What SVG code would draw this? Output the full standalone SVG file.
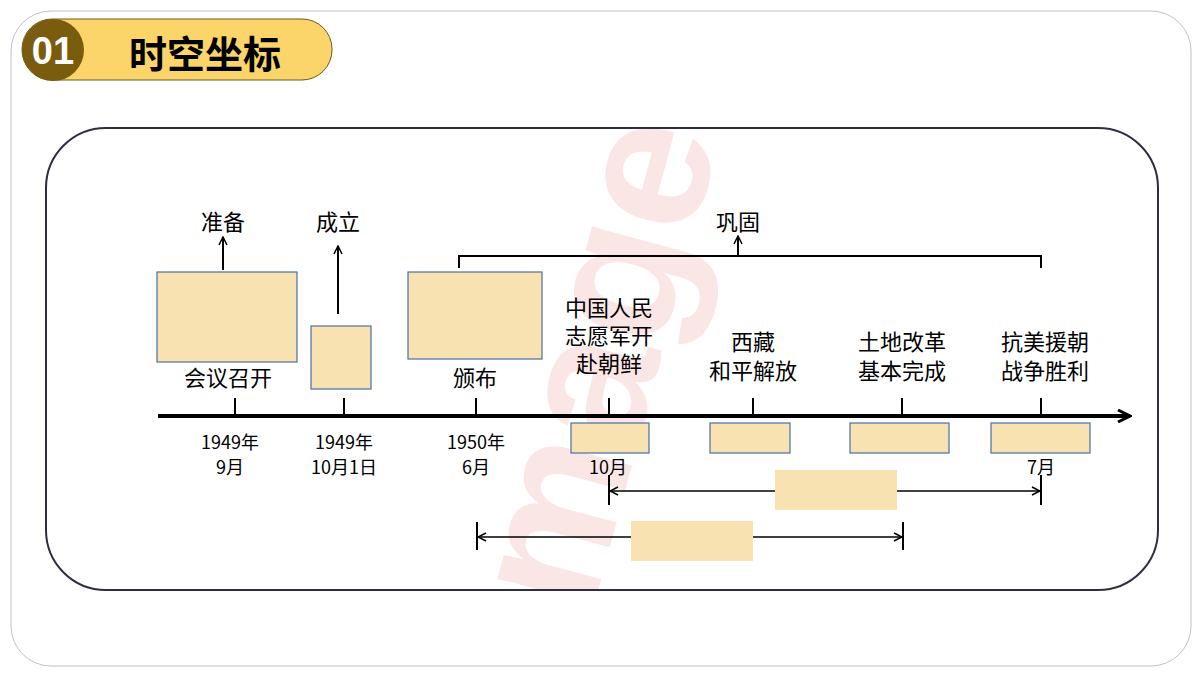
<svg xmlns="http://www.w3.org/2000/svg" width="1200" height="675" viewBox="0 0 1200 675">
<defs>
<style>
.t{font-family:"Liberation Serif","Noto Sans CJK SC",serif;font-size:22px;fill:#000;text-anchor:middle}
.d{font-family:"Noto Sans CJK SC",sans-serif;font-size:18px;fill:#000;text-anchor:middle}
.box{fill:#f8e2b2;stroke:#4a6fa5;stroke-width:1.2}
.ln{stroke:#000;fill:none}
</style>
<clipPath id="inner"><rect x="46" y="128" width="1112" height="462" rx="60"/></clipPath>
<marker id="ah" markerWidth="10" markerHeight="10" refX="9" refY="5" orient="auto-start-reverse" markerUnits="userSpaceOnUse"><path d="M1,1 L9,5 L1,9" fill="none" stroke="#000" stroke-width="1.5"/></marker>
<marker id="big" markerWidth="16" markerHeight="16" refX="14" refY="8" orient="auto" markerUnits="userSpaceOnUse"><path d="M2,2 L14,8 L2,14" fill="none" stroke="#000" stroke-width="3"/></marker>
</defs>
<rect width="1200" height="675" fill="#fff"/>
<rect x="11" y="11" width="1180" height="655" rx="40" fill="#fff" stroke="#b8c4d0" stroke-width="1"/>
<g clip-path="url(#inner)"><text x="600" y="390" transform="rotate(-75 600 390)" font-family="Liberation Sans,sans-serif" font-size="190" font-weight="bold" fill="#fbe6e6" text-anchor="middle" dominant-baseline="middle">Image</text></g>
<g id="title">
<rect x="22" y="19" width="310" height="61" rx="30" fill="#fcd56a" stroke="#6b5a1e" stroke-width="1"/>
<circle cx="53" cy="50" r="31" fill="#7a5c0e"/>
<text x="53" y="64" font-family="Liberation Sans,sans-serif" font-size="38" font-weight="bold" fill="#fff" text-anchor="middle">01</text>
<text x="205" y="68" font-family="Noto Sans CJK SC,sans-serif" font-size="38" font-weight="bold" fill="#000" text-anchor="middle">时空坐标</text>
</g>
<rect x="46" y="128" width="1112" height="462" rx="60" fill="none" stroke="#2e2e40" stroke-width="2"/>
<g id="connectors">
<line class="ln" x1="158" y1="416" x2="1130" y2="416" stroke-width="4" marker-end="url(#big)"/>
<line class="ln" x1="235" y1="398" x2="235" y2="416" stroke-width="2"/>
<line class="ln" x1="344" y1="398" x2="344" y2="416" stroke-width="2"/>
<line class="ln" x1="476" y1="398" x2="476" y2="416" stroke-width="2"/>
<line class="ln" x1="609" y1="398" x2="609" y2="416" stroke-width="2"/>
<line class="ln" x1="753" y1="398" x2="753" y2="416" stroke-width="2"/>
<line class="ln" x1="902" y1="398" x2="902" y2="416" stroke-width="2"/>
<line class="ln" x1="1041" y1="398" x2="1041" y2="416" stroke-width="2"/>
<line class="ln" x1="223" y1="270" x2="223" y2="237" stroke-width="2" marker-end="url(#ah)"/>
<line class="ln" x1="338" y1="314" x2="338" y2="246" stroke-width="2" marker-end="url(#ah)"/>
<path class="ln" d="M459,268 V256 H1041 V268" stroke-width="2"/>
<line class="ln" x1="738" y1="256" x2="738" y2="236" stroke-width="2" marker-end="url(#ah)"/>
<line class="ln" x1="609" y1="475" x2="609" y2="505" stroke-width="2"/>
<line class="ln" x1="1041" y1="475" x2="1041" y2="505" stroke-width="2"/>
<line class="ln" x1="610" y1="491" x2="1040" y2="491" stroke-width="1.5" marker-start="url(#ah)" marker-end="url(#ah)"/>
<line class="ln" x1="477" y1="522" x2="477" y2="550" stroke-width="2"/>
<line class="ln" x1="903" y1="522" x2="903" y2="550" stroke-width="2"/>
<line class="ln" x1="478" y1="537" x2="902" y2="537" stroke-width="1.5" marker-start="url(#ah)" marker-end="url(#ah)"/>
</g>
<g id="n1"><rect class="box" x="157" y="272" width="140" height="90"/><text class="t" x="228" y="386">会议召开</text><text class="t" x="223" y="230">准备</text><text class="d" x="230" y="449">1949年</text><text class="d" x="230" y="474">9月</text></g>
<g id="n2"><rect class="box" x="311" y="326" width="60" height="63"/><text class="t" x="338" y="230">成立</text><text class="d" x="344" y="449">1949年</text><text class="d" x="344" y="474">10月1日</text></g>
<g id="n3"><rect class="box" x="408" y="272" width="134" height="87"/><text class="t" x="475" y="386">颁布</text><text class="d" x="476" y="449">1950年</text><text class="d" x="476" y="474">6月</text></g>
<g id="n4"><text class="t" x="609" y="316">中国人民</text><text class="t" x="609" y="344">志愿军开</text><text class="t" x="609" y="372">赴朝鲜</text><rect class="box" x="571" y="423" width="78" height="30"/><text class="d" x="608" y="474">10月</text></g>
<g id="n5"><text class="t" x="753" y="350">西藏</text><text class="t" x="753" y="379">和平解放</text><rect class="box" x="710" y="423" width="80" height="30"/></g>
<g id="n6"><text class="t" x="902" y="350">土地改革</text><text class="t" x="902" y="379">基本完成</text><rect class="box" x="850" y="423" width="99" height="30"/></g>
<g id="n7"><text class="t" x="1045" y="350">抗美援朝</text><text class="t" x="1045" y="379">战争胜利</text><rect class="box" x="991" y="423" width="99" height="30"/><text class="d" x="1041" y="474">7月</text></g>
<g id="n8"><text class="t" x="738" y="230">巩固</text></g>
<g id="b1"><rect x="775" y="470" width="122" height="40" fill="#f8e2b2"/></g>
<g id="b2"><rect x="631" y="521" width="122" height="40" fill="#f8e2b2"/></g>
</svg>
